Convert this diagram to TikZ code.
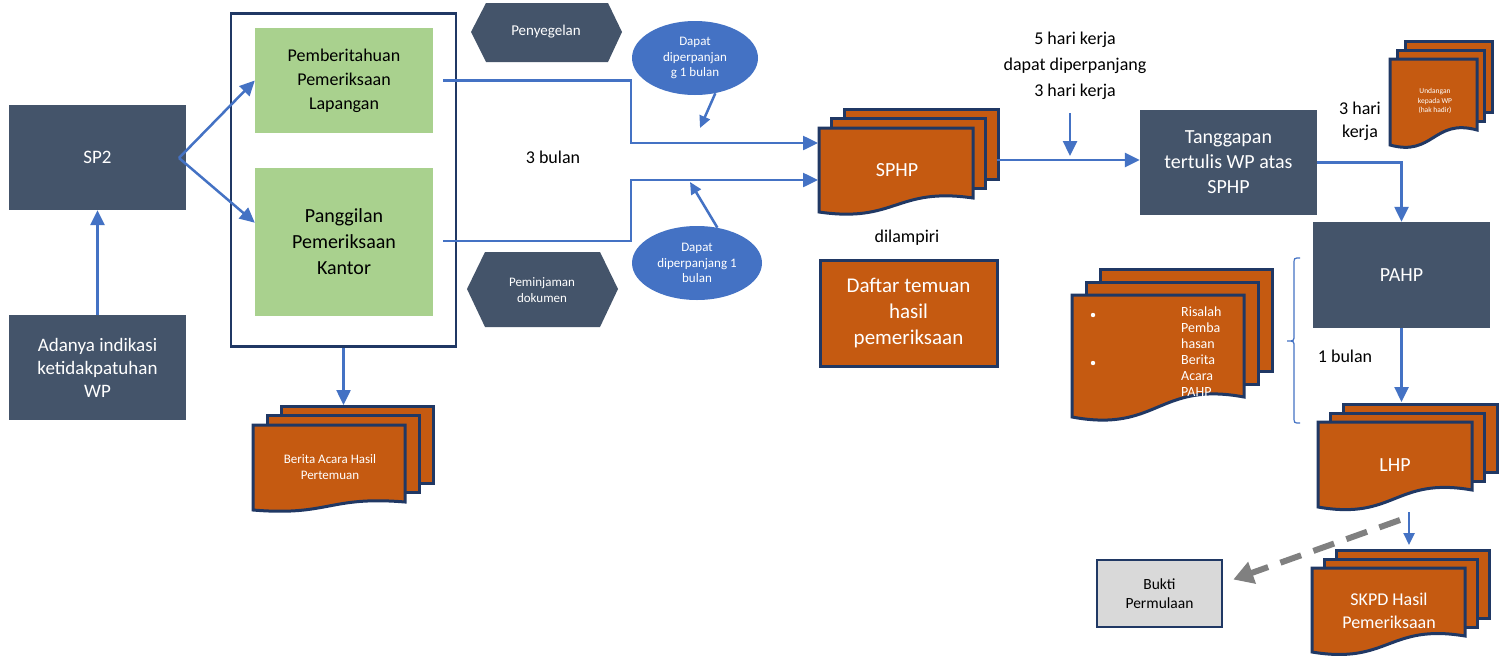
\documentclass[tikz,border=0pt]{standalone}
\usepackage{fontspec}
\setmainfont{Carlito}
\usetikzlibrary{arrows.meta,calc,shapes.geometric}
\definecolor{slate}{HTML}{44546A}
\definecolor{cblue}{HTML}{4472C4}
\definecolor{cgreen}{HTML}{A9D18E}
\definecolor{corange}{HTML}{C55A11}
\definecolor{cnavy}{HTML}{203864}
\definecolor{cgray}{HTML}{808080}
\definecolor{lgray}{HTML}{D9D9D9}
\newcommand\fsz[2]{\fontsize{#1}{#2}\selectfont}
\newcommand\mdoc[7]{%
  \foreach \k in {2,1}{\filldraw[docpage] ({#1+\k*#6},{#2-\k*#7}) rectangle ({#3+\k*#6},{#4-\k*#7});}
  \filldraw[docpage] (#1,#2) -- (#3,#2) -- (#3,#4) .. controls ({(#1+#3)/2},{#4-0.8*(#5-#4)}) and ({(#1+#3)/2},{#5+0.8*(#5-#4)}) .. (#1,#5) -- cycle;}
\tikzset{
  docpage/.style={fill=corange,draw=cnavy,line width=3pt,line join=miter},
  darkbox/.style={fill=slate,draw=none,text=white,align=center,inner sep=0pt},
  greenbox/.style={fill=cgreen,draw=none,text=black,align=center,inner sep=0pt},
  conn/.style={draw=cblue,line width=2.5pt},
  arr/.style={conn,-{Triangle[length=15pt,width=14pt]}},
  sarr/.style={conn,-{Triangle[length=12pt,width=11pt]}},
  bubble/.style={ellipse,fill=cblue,text=white,align=center,inner sep=0pt},
  doctext/.style={text=white,align=center,inner sep=0pt},
  lbl/.style={text=black,align=center,inner sep=0pt},
}
\begin{document}
\begin{tikzpicture}[x=1pt,y=-1pt]
\useasboundingbox[fill=white] (0,0) rectangle (1506,656);

% left column
\node[darkbox,minimum width=177,minimum height=105,font=\fsz{19}{23}] (sp2) at (97.5,157.5) {SP2};
\node[darkbox,minimum width=177,minimum height=105,font=\fsz{19}{23}] (adanya) at (97.5,367.5) {Adanya indikasi\\ketidakpatuhan\\WP};
\draw[arr] (adanya) -- (sp2);

% outer frame and green boxes
\node[draw=cnavy,line width=2.5pt,minimum width=225,minimum height=333,inner sep=0pt] (outer) at (343.5,180) {};
\node[greenbox,minimum width=178,minimum height=105,font=\fsz{18}{24}] (g1) at (344,80.5) {Pemberitahuan\\Pemeriksaan\\Lapangan};
\node[greenbox,minimum width=178,minimum height=148,font=\fsz{20}{26}] (g2) at (344,242) {Panggilan\\Pemeriksaan\\Kantor};
\coordinate (fork) at (179,158);
\draw[arr] (fork) -- (g1.west);
\draw[arr] (fork) -- ($(g2.north west)!0.37!(g2.south west)$);

% Berita acara
\mdoc{253}{425}{405}{502}{510}{14}{9.5}
\node[doctext,font=\fsz{13}{16}] (berita) at (330,467) {Berita Acara Hasil\\Pertemuan};
\coordinate (beritatop) at (343.5,405);
\draw[arr] (outer.south) -- (beritatop);

% hexagons
\path[fill=slate] (471,32) -- (486,3) -- (608,3) -- (622,32) -- (608,62) -- (486,62) -- cycle;
\node[lbl,text=white,font=\fsz{15}{18}] (hex1) at (546,32) {Penyegelan};
\path[fill=slate] (467,289) -- (485,252) -- (600,252) -- (618,289) -- (600,327) -- (485,327) -- cycle;
\node[lbl,text=white,font=\fsz{13}{16}] (hex2) at (542,290) {Peminjaman\\dokumen};

% bubbles
\node[bubble,minimum width=126,minimum height=74,font=\fsz{13}{15.5}] (ell1) at (695,58) {Dapat\\diperpanjan\\g 1 bulan};
\node[bubble,minimum width=130,minimum height=74,font=\fsz{13}{15.5}] (ell2) at (697,263) {Dapat\\diperpanjang 1\\bulan};
\coordinate (e1t) at (700,128);
\coordinate (e2t) at (690,182);
\draw[sarr] (ell1.-60) -- (e1t);
\draw[sarr] (ell2.60) -- (e2t);

\node[lbl,font=\fsz{18}{22}] (tigabulan) at (553,157) {3 bulan};

% SPHP
\mdoc{819}{128}{973}{198}{212}{12.5}{9.5}
\node[doctext,font=\fsz{20}{24}] (sphp) at (897,170) {SPHP};
\coordinate (in1) at (818,143);
\coordinate (in2) at (818,180);
\coordinate (b1) at (631,143);
\coordinate (b2) at (631,180);
\draw[arr] ($(g1.east)+(10,0)$) -| (b1) -- (in1);
\draw[arr] ($(g2.east)+(10,-1)$) -| (b2) -- (in2);

\node[lbl,font=\fsz{18}{22}] (dilampiri) at (907,238) {dilampiri};
\node[fill=corange,draw=cnavy,line width=3pt,minimum width=177,minimum height=106,text=white,align=center,inner sep=0pt,font=\fsz{21}{26}] (daftar) at (908.5,313) {Daftar temuan\\hasil\\pemeriksaan};

% Tanggapan
\node[darkbox,minimum width=177,minimum height=105,font=\fsz{20}{25}] (tang) at (1228.5,162.5) {Tanggapan\\tertulis WP atas\\SPHP};
\coordinate (spout) at (997,160);
\draw[arr] (spout) -- (tang.west |- spout);
\node[lbl,font=\fsz{18}{26}] (lima) at (1075,66) {5 hari kerja\\dapat diperpanjang\\3 hari kerja};
\coordinate (l5a) at (1070,113);
\coordinate (l5b) at (1070,156);
\draw[arr] (l5a) -- (l5b);

% Undangan
\mdoc{1390}{59}{1477}{130}{145}{7.5}{9}
\node[doctext,font=\fsz{7.5}{9.5}] (undangan) at (1435,101) {Undangan\\kepada WP\\(hak hadir)};
\node[lbl,font=\fsz{18}{23}] (tigahari) at (1360,121) {3 hari\\kerja};

% PAHP
\node[darkbox,minimum width=177,minimum height=106,font=\fsz{20}{24}] (pahp) at (1401.5,275) {PAHP};
\draw[arr] (tang.east) -| (pahp.north);

% Risalah
\mdoc{1072}{295}{1244}{397}{417}{14}{13}
\node[text=white,align=left,inner sep=0pt,anchor=north west,font=\fsz{14}{16}] (risalah) at (1181,307) {Risalah\\Pemba\\hasan\\Berita\\Acara\\PAHP};
\fill[white] (1093,315) circle (2.2);
\fill[white] (1093,363) circle (2.2);

% brace
\draw[cblue,line width=1.2pt] (1300,258) .. controls (1294,258) .. (1294,264) -- (1294,335) .. controls (1294,341) .. (1287,341) .. controls (1294,341) .. (1294,347) -- (1294,417) .. controls (1294,423) .. (1300,423);
\node[lbl,font=\fsz{18}{22}] (satubulan) at (1345,356) {1 bulan};

% LHP
\mdoc{1318}{422}{1472}{490}{507}{12.5}{9}
\node[doctext,font=\fsz{20}{24}] (lhp) at (1395,465) {LHP};
\coordinate (lhptop) at (1401.5,402);
\draw[arr] (pahp.south) -- (lhptop);

% SKPD
\mdoc{1312}{568}{1465}{636}{652}{12}{9}
\node[doctext,font=\fsz{18}{23}] (skpd) at (1389,611) {SKPD Hasil\\Pemeriksaan};
\coordinate (la) at (1409,512);
\coordinate (lb) at (1409,545);
\draw[sarr] (la) -- (lb);

% Bukti
\node[fill=lgray,draw=cnavy,line width=2.5pt,minimum width=125,minimum height=67,align=center,inner sep=0pt,font=\fsz{15.5}{19}] (bukti) at (1159.5,593.5) {Bukti\\Permulaan};
\coordinate (ds) at (1400,520);
\draw[draw=cgray,line width=6pt,dash pattern=on 22pt off 13pt,-{Triangle[length=20pt,width=22pt]}] (ds) -- ($(bukti.east)+(10,-14)$);
\end{tikzpicture}
\end{document}
